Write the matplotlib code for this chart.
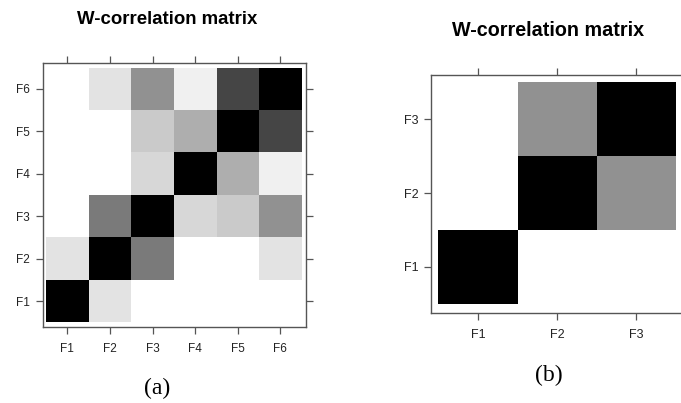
import numpy as np
import matplotlib
matplotlib.use('Agg')
from matplotlib import pyplot as plt

# W-correlation values (symmetric), read from the grey levels
labels_a = ['F1', 'F2', 'F3', 'F4', 'F5', 'F6']
wcor_a = [[1.00, 0.11, 0.00, 0.00, 0.00, 0.00],
          [0.11, 1.00, 0.52, 0.00, 0.00, 0.11],
          [0.00, 0.52, 1.00, 0.16, 0.21, 0.43],
          [0.00, 0.00, 0.16, 1.00, 0.32, 0.06],
          [0.00, 0.00, 0.21, 0.32, 1.00, 0.73],
          [0.00, 0.11, 0.43, 0.06, 0.73, 1.00]]

labels_b = ['F1', 'F2', 'F3']
wcor_b = [[1.00, 0.00, 0.00],
          [0.00, 1.00, 0.43],
          [0.00, 0.43, 1.00]]

title = 'W-correlation matrix'
frame_col = '#555555'
txt_col = '#222222'

plt.rcParams['font.family'] = 'Liberation Sans'

fig = plt.figure(figsize=(6.81, 4.03), dpi=100)


def wplot(ax, w, labels, lo, hi_x, hi_y, fs):
    w = np.array(w)
    n = len(labels)
    edges = np.arange(n + 1) + 0.5
    ax.pcolormesh(edges, edges, w, cmap='gray_r', vmin=0, vmax=1)
    ax.set_xlim(lo[0], hi_x)
    ax.set_ylim(lo[1], hi_y)
    ticks = np.arange(1, n + 1)
    ax.set_xticks(ticks, labels)
    ax.set_yticks(ticks, labels)
    ax.tick_params(direction='out', length=5, width=0.9, color=frame_col,
                   top=True, right=True, labelsize=fs, labelcolor=txt_col)
    ax.tick_params(axis='x', pad=6.5)
    ax.tick_params(axis='y', pad=4)
    for s in ax.spines.values():
        s.set_color(frame_col)
        s.set_linewidth(1.0)


ax1 = fig.add_axes([0.0627, 0.1878, 0.3866, 0.655])
wplot(ax1, wcor_a, labels_a, (0.42, 0.38), 6.6, 6.6, 8.5)

ax2 = fig.add_axes([0.6333, 0.224, 0.3696, 0.59])
wplot(ax2, wcor_b, labels_b, (0.41, 0.38), 3.59, 3.6, 9)

fig.text(167 / 681, 1 - 20 / 403, title, ha='center', va='center',
         fontsize=13.4, fontweight='bold', color='black')
fig.text(548 / 681, 1 - 31 / 403, title, ha='center', va='center',
         fontsize=14.2, fontweight='bold', color='black')

fig.text(157 / 681, 1 - 388 / 403, '(a)', ha='center', va='center',
         fontsize=17, family='Liberation Serif')
fig.text(549 / 681, 1 - 375 / 403, '(b)', ha='center', va='center',
         fontsize=17, family='Liberation Serif')

fig.savefig('out.png', dpi=100)
